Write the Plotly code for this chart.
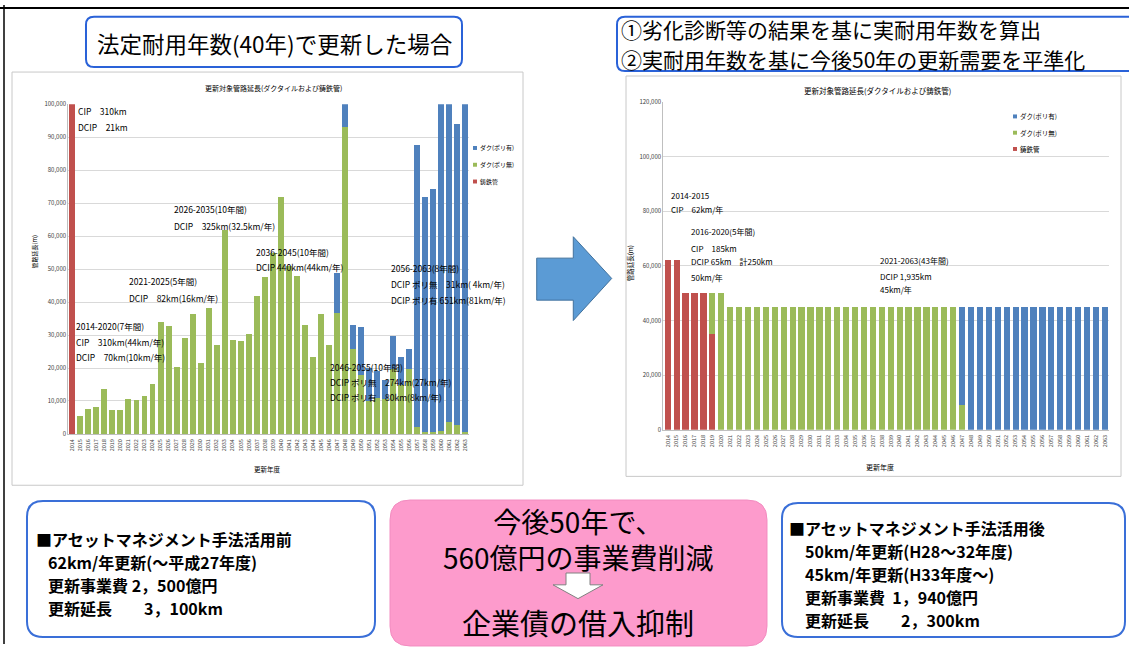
import plotly.graph_objects as go

W, H = 1129, 648
FONT = "Noto Sans CJK JP"

years = [str(y) for y in range(2014, 2064)]

# Renewal length per year [m] when renewing at the statutory service life (40 years)
cast_iron_40 = [310000] + [0] * 49
ductile_nopoly_40 = [
    21000, 5500, 7700, 8200, 13700, 7200, 7200, 10500, 10300, 11400,
    15300, 33900, 32900, 20300, 29000, 36300, 21600, 38100, 26900, 62000,
    28400, 28200, 30200, 41800, 47600, 55000, 72000, 51000, 48000, 33000,
    23400, 36500, 26900, 36700, 93000, 25900, 18000, 10000, 11000, 10500,
    19600, 15000, 19600, 2000, 500, 500, 1000, 3500, 2800, 500,
]
ductile_poly_40 = [0] * 33 + [
    12000, 9000, 7200, 14500, 10000, 8000, 6000, 10000, 8400,
    6300, 85600, 71500, 73800, 108000, 104000, 91200, 110000,
]

# Renewal length per year [m] after levelling with the actual service life
cast_iron_lv = [62000, 62000, 50000, 50000, 50000, 35000] + [0] * 44
ductile_nopoly_lv = [0] * 5 + [15000, 50000] + [45000] * 26 + [9000] + [0] * 16
ductile_poly_lv = [0] * 33 + [36000] + [45000] * 16

series_names = ["鋳鉄管", "ダク(ポリ無)", "ダク(ポリ有)"]
series_colors = ["#c0504d", "#9bbb59", "#4f81bd"]


def px(x):
    return x / W


def py(y):
    return 1 - y / H


fig = go.Figure()

for vals, name, color in zip(
    [cast_iron_40, ductile_nopoly_40, ductile_poly_40], series_names, series_colors
):
    fig.add_trace(go.Bar(x=years, y=vals, name=name, marker_color=color,
                         marker_line_width=0, width=0.74, xaxis="x", yaxis="y",
                         showlegend=False))

for vals, name, color in zip(
    [cast_iron_lv, ductile_nopoly_lv, ductile_poly_lv], series_names, series_colors
):
    fig.add_trace(go.Bar(x=years, y=vals, name=name, marker_color=color,
                         marker_line_width=0, width=0.7, xaxis="x2", yaxis="y2",
                         showlegend=False))

shapes = []
annotations = []


def text(x, y, s, size, xanchor="left", color="black", **kw):
    annotations.append(dict(
        x=px(x), y=py(y), xref="paper", yref="paper", text=s, showarrow=False,
        xanchor=xanchor, yanchor="middle", borderpad=0,
        font=dict(size=size, family=FONT, color=color), **kw))


def rect(x0, y0, x1, y1, line="#c8c8c8", fill="white", width=1, layer="below"):
    shapes.append(dict(type="rect", xref="paper", yref="paper",
                       x0=px(x0), x1=px(x1), y0=py(y1), y1=py(y0),
                       line=dict(color=line, width=width), fillcolor=fill, layer=layer))


def poly(points, line, fill, width=1, layer="above"):
    d = "M " + " L ".join(f"{px(x):.5f},{py(y):.5f}" for x, y in points) + " Z"
    shapes.append(dict(type="path", xref="paper", yref="paper", path=d,
                       line=dict(color=line, width=width), fillcolor=fill, layer=layer))


def rrect(x0, y0, x1, y1, r, line, fill="white", width=2, layer="below"):
    def p(x, y):
        return f"{px(x):.5f},{py(y):.5f}"
    d = (f"M {p(x0 + r, y0)} L {p(x1 - r, y0)} Q {p(x1, y0)} {p(x1, y0 + r)} "
         f"L {p(x1, y1 - r)} Q {p(x1, y1)} {p(x1 - r, y1)} "
         f"L {p(x0 + r, y1)} Q {p(x0, y1)} {p(x0, y1 - r)} "
         f"L {p(x0, y0 + r)} Q {p(x0, y0)} {p(x0 + r, y0)} Z")
    shapes.append(dict(type="path", xref="paper", yref="paper", path=d,
                       line=dict(color=line, width=width), fillcolor=fill, layer=layer))


# outer frame
shapes.append(dict(type="line", xref="paper", yref="paper", x0=0, x1=1,
                   y0=py(3), y1=py(3), line=dict(color="black", width=2)))
shapes.append(dict(type="line", xref="paper", yref="paper", x0=px(4), x1=px(4),
                   y0=0, y1=1, line=dict(color="black", width=1.5)))

# chart panels
rect(12, 68, 523, 487)
rect(626, 72, 1121, 478)

# heading boxes
rrect(86, 12, 462, 63, 8, "#2a62d8", width=2)
text(274, 39, "法定耐用年数(40年)で更新した場合", 22.5, xanchor="center")
rrect(617, 12, 1140, 67, 8, "#2a62d8", width=2)
text(620, 24.5, "①劣化診断等の結果を基に実耐用年数を算出", 21)
text(620, 55, "②実耐用年数を基に今後50年の更新需要を平準化", 21)

# arrow between the charts
poly([(536.7, 256.7), (573.3, 256.7), (573.3, 235), (611.7, 277.3),
      (573.3, 320), (573.3, 299.3), (536.7, 299.3)], "#41719c", "#5b9bd5", 1)

# chart titles and axis titles
text(273, 84, "更新対象管路延長(ダクタイルおよび鋳鉄管)", 7, xanchor="center")
text(877, 87, "更新対象管路延長(ダクタイルおよび鋳鉄管)", 7.5, xanchor="center")
text(35, 250, "管路延長(m)", 6, xanchor="center", textangle=-90)
text(630, 262, "管路延長(m)", 6.5, xanchor="center", textangle=-90)
text(267, 471, "更新年度", 6.5, xanchor="center")
text(880, 469, "更新年度", 7, xanchor="center")

# period notes, left chart
left_notes = [
    (77, 108, "CIP　310km"),
    (77, 124, "DCIP　21km"),
    (173, 207, "2026-2035(10年間)"),
    (173, 224, "DCIP　325km(32.5km/年)"),
    (128, 280, "2021-2025(5年間)"),
    (128, 297, "DCIP　82km(16km/年)"),
    (75, 326, "2014-2020(7年間)"),
    (75, 342, "CIP　310km(44km/年)"),
    (75, 357, "DCIP　70km(10km/年)"),
    (255, 250, "2036-2045(10年間)"),
    (255, 266, "DCIP 440km(44km/年)"),
    (390, 267, "2056-2063(8年間)"),
    (390, 283, "DCIP ポリ無　31km( 4km/年)"),
    (390, 299, "DCIP ポリ有 651km(81km/年)"),
    (329, 367, "2046-2055(10年間)"),
    (329, 382, "DCIP ポリ無　274km(27km/年)"),
    (329, 398, "DCIP ポリ有　80km(8km/年)"),
]
for x, y, s in left_notes:
    text(x, y, s, 8.5)

# period notes, right chart
right_notes = [
    (670, 193, "2014-2015"),
    (670, 207, "CIP　62km/年"),
    (690, 230, "2016-2020(5年間)"),
    (690, 247, "CIP　185km"),
    (690, 260, "DCIP 65km　計250km"),
    (690, 276, "50km/年"),
    (879, 259, "2021-2063(43年間)"),
    (879, 275, "DCIP 1,935km"),
    (879, 289, "45km/年"),
]
for x, y, s in right_notes:
    text(x, y, s, 8)

# legends (top entry first)
legend_items = list(zip(series_names, series_colors))[::-1]
for (lx, ly, dy, fs) in [(473, 145, 17, 6), (1013, 113, 16.5, 6.5)]:
    for i, (name, color) in enumerate(legend_items):
        yy = ly + i * dy
        rect(lx, yy - 2, lx + 4, yy + 2, line=color, fill=color, width=0, layer="above")
        text(lx + 6, yy, name, fs)

# summary boxes
rrect(27, 503, 375, 641, 16, "#3a6fd8", width=2)
before_lines = [
    (35, "■アセットマネジメント手法活用前"),
    (47, "62km/年更新(〜平成27年度)"),
    (47, "更新事業費 2，500億円"),
    (47, "更新延長　　3，100km"),
]
for i, (x, s) in enumerate(before_lines):
    text(x, 542 + i * 23.3, "<b>" + s + "</b>", 16)

rrect(390, 502, 767, 650, 20, "#f28cc0", fill="#fd9bcc", width=1)
text(578, 542, "今後50年で、<br>560億円の事業費削減", 28, xanchor="center",
     align="center")
poly([(566, 576), (590, 576), (590, 588), (603, 588), (578, 602),
      (553, 588), (566, 588)], "#808080", "white", 1)
text(578, 626, "企業債の借入抑制", 29, xanchor="center")

rrect(782, 505, 1125, 641, 16, "#3a6fd8", width=2)
after_lines = [
    (788, "■アセットマネジメント手法活用後"),
    (804, "50km/年更新(H28〜32年度)"),
    (804, "45km/年更新(H33年度〜)"),
    (804, "更新事業費  1，940億円"),
    (804, "更新延長　　2，300km"),
]
for i, (x, s) in enumerate(after_lines):
    text(x, 530 + i * 23.3, "<b>" + s + "</b>", 16)

axis_common = dict(showgrid=False, showline=True, linecolor="#bfbfbf",
                   linewidth=1, ticks="", type="category", tickangle=-90,
                   tickfont=dict(size=5.5, family=FONT, color="#404040"))
yaxis_common = dict(showgrid=True, gridcolor="#d9d9d9", gridwidth=1,
                    zeroline=False, showline=True, linecolor="#bfbfbf",
                    tickformat=",d", ticks="",
                    tickfont=dict(size=6, family=FONT, color="#404040"))

fig.update_layout(
    width=W, height=H, margin=dict(l=0, r=0, t=0, b=0),
    paper_bgcolor="white", plot_bgcolor="white",
    barmode="stack", showlegend=False,
    xaxis=dict(domain=[px(68.3), px(469.3)], anchor="y", **axis_common),
    yaxis=dict(domain=[py(435), py(100.7)], anchor="x", range=[0, 100000],
               dtick=10000, **yaxis_common),
    xaxis2=dict(domain=[px(663.3), px(1109.3)], anchor="y2", **axis_common),
    yaxis2=dict(domain=[py(430.7), py(98.3)], anchor="x2", range=[0, 120000],
                dtick=20000, **yaxis_common),
    shapes=shapes, annotations=annotations,
)
fig.update_xaxes(ticklabelstandoff=2)

fig.write_html("out.html")
